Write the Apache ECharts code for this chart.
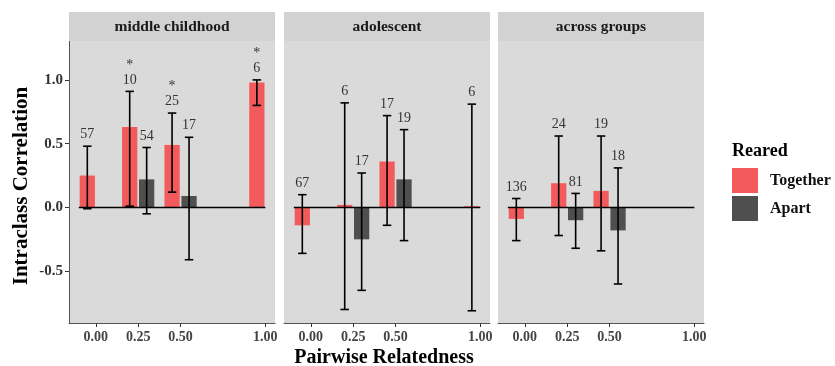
<!DOCTYPE html>
<html>
<head>
<meta charset="utf-8">
<script src="https://cdn.jsdelivr.net/npm/echarts@6/dist/echarts.min.js"></script>
<style>
  html, body { margin: 0; padding: 0; background: #fff; }
  #chart { width: 835px; height: 366px; }
</style>
</head>
<body>
<div id="chart"></div>
<script>
// facets and x positions
const panels = ['middle childhood', 'adolescent', 'across groups'];
const relatedness = [0, 0.25, 0.5, 1];

// Reared together: one row per facet, one value per relatedness (null = no data)
const togetherR  = [[0.25, 0.63, 0.49, 0.98], [-0.14, 0.02, 0.36, 0.01], [-0.09, 0.19, 0.13, null]];
const togetherLo = [[-0.01, 0.01, 0.12, 0.80], [-0.36, -0.80, -0.14, -0.81], [-0.26, -0.22, -0.34, null]];
const togetherHi = [[0.48, 0.91, 0.74, 1.00], [0.10, 0.82, 0.72, 0.81], [0.07, 0.56, 0.56, null]];
const togetherN  = [[57, 10, 25, 6], [67, 6, 17, 6], [136, 24, 19, null]];
const togetherSig = [[false, true, true, true], [false, false, false, false], [false, false, false, false]];

// Reared apart
const apartR  = [[null, 0.22, 0.09, null], [null, -0.25, 0.22, null], [null, -0.10, -0.18, null]];
const apartLo = [[null, -0.05, -0.41, null], [null, -0.65, -0.26, null], [null, -0.32, -0.60, null]];
const apartHi = [[null, 0.47, 0.55, null], [null, 0.27, 0.61, null], [null, 0.11, 0.31, null]];
const apartN  = [[null, 54, 17, null], [null, 17, 19, null], [null, 81, 18, null]];

const yTicks = [-0.5, 0, 0.5, 1];

const RED = '#F35A5B';
const DARK = '#4F4F4F';
const FONT = '"Liberation Serif", "DejaVu Serif", serif';

const panelLeft = [69, 284, 498];
const panelW = 206;
const panelTop = 41;
const panelH = 282;

function rows(p, R, Lo, Hi, N, Sig) {
  let out = [];
  relatedness.forEach((x, i) => {
    if (R[p][i] == null) return;
    out.push([x, R[p][i], Lo[p][i], Hi[p][i], N[p][i], Sig && Sig[p][i] ? 1 : 0]);
  });
  return out;
}

function barItem(dir, color) {
  return function (params, api) {
    let x = api.value(0), r = api.value(1);
    let base = api.coord([x, 0]);
    let top = api.coord([x, r]);
    let w = api.size([0.09, 0])[0];
    let off = api.size([0.05, 0])[0] * dir;
    return {
      type: 'rect',
      shape: {x: base[0] + off - w / 2, y: Math.min(base[1], top[1]), width: w, height: Math.abs(top[1] - base[1])},
      style: {fill: color}
    };
  };
}

function errItem(dir) {
  return function (params, api) {
    let x = api.value(0);
    let hi = api.coord([x, api.value(3)]);
    let lo = api.coord([x, api.value(2)]);
    let off = api.size([0.05, 0])[0] * dir;
    let cx = hi[0] + off;
    let cap = api.size([0.025, 0])[0];
    let ls = {stroke: '#000', lineWidth: 1.6};
    let txt = (api.value(5) ? '*\n' : '') + api.value(4);
    return {
      type: 'group',
      children: [
        {type: 'line', shape: {x1: cx, y1: hi[1], x2: cx, y2: lo[1]}, style: ls},
        {type: 'line', shape: {x1: cx - cap, y1: hi[1], x2: cx + cap, y2: hi[1]}, style: ls},
        {type: 'line', shape: {x1: cx - cap, y1: lo[1], x2: cx + cap, y2: lo[1]}, style: ls},
        {type: 'text', x: cx, y: hi[1] - 4, style: {
          text: txt, fill: '#333', font: '14px ' + FONT, align: 'center', verticalAlign: 'bottom', lineHeight: 15
        }}
      ]
    };
  };
}

let grid = [], xAxis = [], yAxis = [], series = [], graphic = [];

panels.forEach((name, p) => {
  grid.push({
    left: panelLeft[p], top: panelTop, width: panelW, height: panelH,
    show: true, backgroundColor: '#DADADA', borderWidth: 0
  });
  xAxis.push({
    type: 'value', gridIndex: p, min: -0.158, max: 1.057,
    splitLine: {show: false},
    axisLine: {show: true, onZero: false, lineStyle: {color: '#555', width: 1}},
    axisTick: {show: true, length: 4, customValues: relatedness, lineStyle: {color: '#333'}},
    axisLabel: {
      customValues: relatedness, formatter: v => v.toFixed(2), margin: 7,
      color: '#444', fontFamily: FONT, fontWeight: 'bold', fontSize: 14
    }
  });
  yAxis.push({
    type: 'value', gridIndex: p, min: -0.906, max: 1.305,
    splitLine: {show: false},
    axisLine: {show: p === 0, onZero: false, lineStyle: {color: '#555', width: 1}},
    axisTick: {show: p === 0, length: 4, customValues: yTicks, lineStyle: {color: '#333'}},
    axisLabel: {
      show: p === 0, customValues: yTicks, formatter: v => v.toFixed(1), margin: 6,
      color: '#333', fontFamily: FONT, fontWeight: 'bold', fontSize: 15
    }
  });

  series.push({
    name: 'Together', type: 'custom', xAxisIndex: p, yAxisIndex: p, z: 2,
    itemStyle: {color: RED},
    renderItem: barItem(-1, RED),
    data: rows(p, togetherR, togetherLo, togetherHi, togetherN, togetherSig)
  });
  series.push({
    name: 'Apart', type: 'custom', xAxisIndex: p, yAxisIndex: p, z: 2,
    itemStyle: {color: DARK},
    renderItem: barItem(1, DARK),
    data: rows(p, apartR, apartLo, apartHi, apartN, null)
  });
  series.push({
    name: 'zero' + p, type: 'line', xAxisIndex: p, yAxisIndex: p, z: 3,
    symbol: 'none', silent: true,
    lineStyle: {color: '#000', width: 1.5},
    data: [[-0.1, 0], [1, 0]]
  });
  series.push({
    name: 'errT' + p, type: 'custom', xAxisIndex: p, yAxisIndex: p, z: 4,
    renderItem: errItem(-1),
    data: rows(p, togetherR, togetherLo, togetherHi, togetherN, togetherSig)
  });
  series.push({
    name: 'errA' + p, type: 'custom', xAxisIndex: p, yAxisIndex: p, z: 4,
    renderItem: errItem(1),
    data: rows(p, apartR, apartLo, apartHi, apartN, null)
  });

  // facet strip
  graphic.push({
    type: 'rect', left: panelLeft[p], top: 12, z: 1,
    shape: {width: panelW, height: 29}, style: {fill: '#D2D2D2'}
  });
  graphic.push({
    type: 'text', z: 2, x: panelLeft[p] + panelW / 2, y: 27,
    style: {text: name, font: 'bold 15.5px ' + FONT, fill: '#1a1a1a', align: 'center', verticalAlign: 'middle'}
  });
});

// axis titles and legend title
graphic.push({
  type: 'text', x: 22, y: 186, rotation: Math.PI / 2,
  style: {text: 'Intraclass Correlation', font: 'bold 21px ' + FONT, fill: '#000', align: 'center', verticalAlign: 'middle'}
});
graphic.push({
  type: 'text', x: 384, y: 358,
  style: {text: 'Pairwise Relatedness', font: 'bold 20px ' + FONT, fill: '#000', align: 'center', verticalAlign: 'middle'}
});
graphic.push({
  type: 'text', x: 732, y: 151,
  style: {text: 'Reared', font: 'bold 18px ' + FONT, fill: '#000', align: 'left', verticalAlign: 'middle'}
});

let myChart = echarts.init(document.getElementById('chart'), null, {renderer: 'canvas'});
myChart.setOption({
  animation: false,
  backgroundColor: '#fff',
  grid: grid,
  xAxis: xAxis,
  yAxis: yAxis,
  legend: {
    orient: 'vertical', left: 727, top: 163,
    itemWidth: 26, itemHeight: 25, itemGap: 3,
    data: [{name: 'Together', icon: 'rect'}, {name: 'Apart', icon: 'rect'}],
    textStyle: {fontFamily: FONT, fontWeight: 'bold', fontSize: 16, color: '#111', padding: [0, 0, 0, 7]}
  },
  graphic: graphic,
  series: series
});
</script>
</body>
</html>
